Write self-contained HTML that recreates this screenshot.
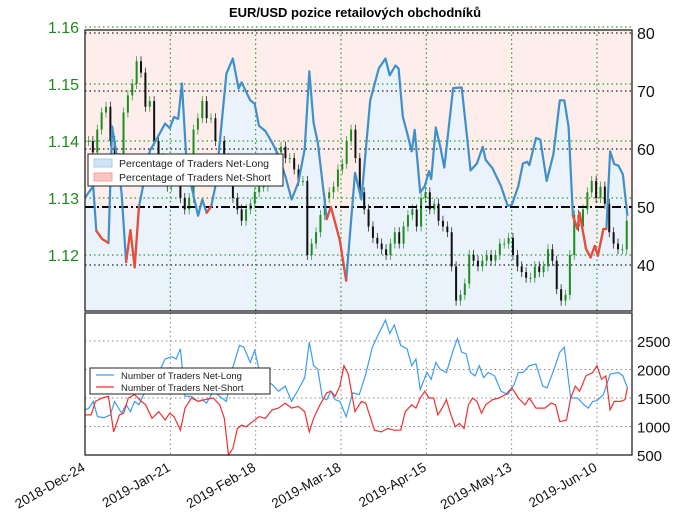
<!DOCTYPE html>
<html><head><meta charset="utf-8"><style>
html,body{margin:0;padding:0;background:#fff;}
svg{display:block;font-family:"Liberation Sans",sans-serif;}
</style></head><body>
<svg id="chart" width="680" height="519" viewBox="0 0 680 519">
<text x="355" y="17" text-anchor="middle" font-size="13" font-weight="bold">EUR/USD pozice retailových obchodníků</text>
<g id="upper"></g>
<g id="lower"></g>
<g id="xaxis"></g>
</svg>
<script>
// ---------- data ----------
const dateLabels = ["2018-Dec-24","2019-Jan-21","2019-Feb-18","2019-Mar-18","2019-Apr-15","2019-May-13","2019-Jun-10"];
const dateDays = [0,28,56,84,112,140,168];
const priceTicks = [1.12,1.13,1.14,1.15,1.16];
const pctTicks = [40,50,60,70,80];
const countTicks = [500,1000,1500,2000,2500];

const closes = [1.140,1.138,1.142,1.145,1.146,1.140,1.137,1.135,1.145,1.148,1.150,1.154,1.152,1.146,1.147,1.140,1.137,1.135,1.132,1.133,1.135,1.130,1.128,1.130,1.142,1.144,1.147,1.144,1.144,1.140,1.140,1.137,1.135,1.130,1.128,1.126,1.128,1.129,1.131,1.132,1.132,1.133,1.133,1.138,1.139,1.137,1.137,1.135,1.133,1.133,1.120,1.122,1.124,1.127,1.130,1.131,1.132,1.135,1.136,1.140,1.142,1.137,1.131,1.128,1.125,1.123,1.122,1.121,1.120,1.122,1.124,1.122,1.125,1.127,1.128,1.125,1.130,1.131,1.128,1.129,1.126,1.125,1.124,1.118,1.112,1.113,1.115,1.120,1.119,1.118,1.119,1.120,1.119,1.120,1.122,1.122,1.123,1.120,1.118,1.117,1.116,1.116,1.118,1.117,1.118,1.121,1.119,1.114,1.112,1.113,1.120,1.127,1.125,1.128,1.131,1.133,1.130,1.132,1.129,1.124,1.122,1.121,1.121,1.126];

const pctDays = [0,2.7,3.7,5.6,7.7,8.9,10.6,12.0,13.5,14.9,16.3,17.7,19.2,21.3,23.5,26.3,27.8,29.2,30.6,31.8,33.2,34.9,37.1,38.5,39.9,41.4,42.8,44.2,46.4,48.5,50.4,51.4,54.2,55.7,57.1,59.2,61.4,63.5,65.7,67.8,70.0,72.1,73.6,75.0,76.4,78.6,79.3,80.7,83.6,85.7,88.6,90.7,93.6,96.4,98.6,100.0,101.9,102.9,104.3,105.7,107.2,108.2,110.0,111.5,112.9,113.6,115.1,116.5,117.9,120.8,123.6,125.8,126.5,128.6,130.5,131.5,133.7,136.5,138.7,140.1,142.2,143.7,145.1,145.8,148.0,149.4,151.5,153.7,155.8,157.3,158.7,160.1,161.6,162.3,164.4,165.9,167.3,168.3,170.1,171.1,172.3,173.7,175.1,176.5,178.0];
const pctLong = [51.6,53.6,45.9,44.5,43.8,63.9,58.2,52.4,40.5,46.0,39.6,50,54,59.7,61.7,64.4,63.6,65.5,65.2,71.3,58.7,53.6,48.5,51.3,49,50.1,53.6,61,73,75.6,70.4,71.5,68.4,67.8,64,63.1,61.1,58.9,55.4,51.3,54.2,60,73.4,64.5,61.1,51.3,47.9,50,44.3,37.3,55.9,51.3,68.4,73.9,75.6,72.7,74.4,73.9,65.6,62.8,59.6,63.3,52.5,53.6,56.2,54.8,63.7,60.6,56.8,70.5,70.6,59.9,56.3,57.5,60.4,58.1,56.7,53.6,50.2,50.4,53.6,57.5,57.8,57.2,61.9,61.6,54.5,59.1,68.4,68.4,63.8,48.5,46.2,49,42.8,41.3,43.3,41.6,46.2,46.2,59.6,57.4,57.1,55.6,48.5];

const longDays = [0,1.3,2.7,4.1,6.2,8.3,9.7,12.0,13.5,14.9,16.3,17.7,19.2,21.3,23.5,26.3,28.5,29.9,31.3,32.8,34.9,37.1,38.5,39.9,42.1,44.2,46.4,48.5,50.7,52.1,54.2,55.7,57.1,59.2,61.4,63.5,65.7,67.8,70.0,72.1,73.6,75.0,76.4,77.9,79.3,80.7,82.1,83.6,85.7,87.8,90.0,92.1,94.3,96.4,98.6,100.0,101.5,103.6,105.7,107.2,108.6,110.0,112.2,113.6,115.1,116.5,118.6,120.8,122.2,123.6,125.1,126.5,128.0,129.4,130.8,132.3,134.4,136.5,138.7,140.8,142.2,143.7,145.8,148.0,150.2,151.6,153.7,155.8,157.3,159.4,161.6,163.7,165.2,166.6,168.0,170.1,172.3,175.1,176.5,178.0];
const longCounts = [1290,1322,1441,1173,1155,1203,1441,1233,1381,1262,1441,1381,1560,1649,1857,2185,2226,2185,2363,1530,1530,1441,1471,1411,1619,1530,1441,2036,2423,2393,2125,2333,2006,1798,1738,1619,1709,1441,1649,1857,2482,2066,2006,1500,1471,1619,1471,1441,1173,1590,1560,1917,2393,2631,2869,2631,2780,2423,2363,2066,2185,1649,1947,1828,2125,2006,1947,2333,2542,2304,2274,1947,1887,2066,1857,1947,1887,1619,1560,1738,1947,1947,2066,2095,1709,1679,1976,2304,2393,1500,1500,1381,1322,1441,1453,1560,1917,1947,1887,1679];

const shortDays = [0,2.0,3.4,5.6,7.7,9.4,11.3,12.7,14.2,16.3,18.5,19.9,22.0,24.2,26.3,27.8,29.2,31.3,32.8,34.9,37.1,39.2,42.1,44.2,45.7,47.1,48.5,50.0,51.4,52.8,55.0,57.1,59.2,61.4,63.5,65.7,67.8,70.0,72.1,73.6,75.0,77.1,79.3,80.7,82.1,83.6,85.0,86.4,88.6,90.7,92.1,95.0,97.2,99.3,101.5,103.6,105.1,107.2,108.6,110.0,111.5,112.9,114.4,115.8,117.2,118.6,120.1,121.5,122.9,124.4,125.8,127.2,128.6,130.1,131.5,133.7,135.8,138.0,140.1,142.2,144.4,145.8,148.0,150.9,153.0,154.4,155.8,158.0,159.4,160.9,162.3,164.4,166.6,168.0,169.5,170.9,172.3,173.7,175.8,177.2,178.0];
const shortCounts = [1203,1203,1441,1500,1530,905,1203,1233,1500,1560,1441,1381,1143,1262,1114,1233,1173,935,1322,1500,1441,1471,1500,1381,1143,501,608,965,1024,995,1084,1173,1143,1292,1322,1411,1322,1352,1262,905,1143,1381,1590,1619,1530,1709,2066,1917,1262,1441,1411,935,905,965,935,935,1262,1381,1322,1500,1619,1500,1500,1203,1322,1471,1203,995,1054,965,1381,1500,1441,1233,1381,1471,1500,1560,1679,1500,1381,1500,1322,1322,1411,1381,1084,1114,1500,1709,1619,1887,1947,2066,1828,1887,1292,1441,1441,1471,1679];

// ---------- scales ----------
const L=85, R=632, UT=30, UB=311, LT=313, LB=455, DMAX=179.5;
const x = d => L + d/DMAX*(R-L);
const yPct = v => 33 + (80-v)*5.8;
const yPrice = p => 27 + (1.16-p)*5700;
const yCnt = v => 455 - (v-500)*0.057;
const NS="http://www.w3.org/2000/svg";
function mk(tag, attrs, parent){const e=document.createElementNS(NS,tag);for(const k in attrs)e.setAttribute(k,attrs[k]);parent.appendChild(e);return e;}
const up=document.getElementById('upper'), lo=document.getElementById('lower'), xa=document.getElementById('xaxis');

let bg=mk('rect',{x:L,y:UT,width:R-L,height:UB-UT,fill:'#fdeeec'},up);


let fp='M'+x(pctDays[0])+','+UB;
pctDays.forEach((d,i)=>{fp+=' L'+x(d).toFixed(1)+','+yPct(pctLong[i]).toFixed(1);});
fp+=' L'+x(pctDays[pctDays.length-1])+','+UB+' Z';
let fa=mk('path',{d:fp,fill:'#eaf3fb'},up);


mk('rect',{x:L,y:yPct(50),width:R-L,height:UB-yPct(50),fill:'#eaf3fb',opacity:0.6},up);

priceTicks.forEach(p=>{
  const g=mk('line',{x1:L,x2:R,y1:yPrice(p),y2:yPrice(p),stroke:'#2a9d2a','stroke-dasharray':'1.5,3','stroke-width':1.2},up);
  
  
  const t=mk('text',{x:L-6,y:yPrice(p)+6,'text-anchor':'end','font-size':16,fill:'#1f8a1f'},up);
  t.textContent=p.toFixed(2);
  
  
});
pctTicks.forEach(v=>{
  if(v!==50){const g=mk('line',{x1:L,x2:R,y1:yPct(v),y2:yPct(v),stroke:'#222','stroke-dasharray':'1.5,3','stroke-width':1.2},up);
  
  }
  const t=mk('text',{x:R+5,y:yPct(v)+6,'font-size':16,fill:'#111'},up);
  t.textContent=v;
  
  
});
dateDays.slice(1).forEach(d=>{
  const g=mk('line',{x1:x(d),x2:x(d),y1:UT,y2:UB,stroke:'#2a9d2a','stroke-dasharray':'1.5,3','stroke-width':1.2},up);
  
  
});

const stepC = DMAX/(closes.length+1);
closes.forEach((c,i)=>{
  const o = i===0 ? c : closes[i-1];
  const cx = x(stepC*(i+0.8));
  const col = c>=o ? '#1e8c1e' : '#111';
  const hi=Math.max(o,c), lw=Math.min(o,c);
  const w=mk('line',{x1:cx,x2:cx,y1:yPrice(hi)-5,y2:yPrice(lw)+5,stroke:col,'stroke-width':0.7},up);
  
  
  const b=mk('rect',{x:cx-1,y:yPrice(hi),width:2,height:Math.max(1,yPrice(lw)-yPrice(hi)),fill:col},up);
  
  
});

let fl=mk('line',{x1:L,x2:R,y1:yPct(50),y2:yPct(50),stroke:'#000','stroke-width':2,'stroke-dasharray':'9,3,2,3'},up);



let pp='';
pctDays.forEach((d,i)=>{pp+=(i?' L':'M')+x(d).toFixed(1)+','+yPct(pctLong[i]).toFixed(1);});
let pl=mk('path',{d:pp,fill:'none',stroke:'#3f8fcb','stroke-width':2.2,'stroke-linejoin':'round'},up);


for(let i=0;i<pctDays.length-1;i++){
  if(pctLong[i]<50 && pctLong[i+1]<50.5 || pctLong[i+1]<50 && pctLong[i]<50.5){
    const s=mk('line',{x1:x(pctDays[i]),y1:yPct(pctLong[i]),x2:x(pctDays[i+1]),y2:yPct(pctLong[i+1]),stroke:'#f04a35','stroke-width':2.2,'stroke-linecap':'round'},up);
    
    
  }
}
let fr=mk('rect',{x:L,y:UT,width:R-L,height:UB-UT,fill:'none',stroke:'#222','stroke-width':1.3},up);



let lg=mk('g',{},up);


mk('rect',{x:88,y:154,width:195,height:32,fill:'#fff',stroke:'#222','stroke-width':1},lg);
mk('rect',{x:94,y:159,width:18,height:8,fill:'#cfe3f6',stroke:'#a9cbe8'},lg);
mk('rect',{x:94,y:173,width:18,height:8,fill:'#f9c6c2',stroke:'#f2a39c'},lg);
let t1=mk('text',{x:119,y:167,'font-size':10.5,fill:'#222'},lg);t1.textContent='Percentage of Traders Net-Long';


let t2=mk('text',{x:119,y:181,'font-size':10.5,fill:'#222'},lg);t2.textContent='Percentage of Traders Net-Short';



countTicks.forEach(v=>{
  if(v>500){const g=mk('line',{x1:L,x2:R,y1:yCnt(v),y2:yCnt(v),stroke:'#888','stroke-dasharray':'1.5,3'},lo);
  
  }
  const t=mk('text',{x:R+5,y:yCnt(v)+6,'font-size':15,fill:'#111'},lo);
  t.textContent=v;
  
  
});
dateDays.slice(1).forEach(d=>{
  const g=mk('line',{x1:x(d),x2:x(d),y1:LT,y2:LB,stroke:'#888','stroke-dasharray':'1.5,3'},lo);
  
  
});
function series(days,vals,col,name){
  let p='';days.forEach((d,i)=>{p+=(i?' L':'M')+x(d).toFixed(1)+','+yCnt(vals[i]).toFixed(1);});
  const e=mk('path',{d:p,fill:'none',stroke:col,'stroke-width':1.2},lo);
  
  
}
series(longDays,longCounts,'#3d9cf5','net-long-count-line');
series(shortDays,shortCounts,'#f03030','net-short-count-line');
let fr2=mk('rect',{x:L,y:LT,width:R-L,height:LB-LT,fill:'none',stroke:'#222','stroke-width':1.3},lo);


let lg2=mk('g',{},lo);


mk('rect',{x:90,y:368,width:180,height:26,fill:'#fff',stroke:'#222'},lg2);
mk('line',{x1:96,x2:114,y1:375,y2:375,stroke:'#3d9cf5','stroke-width':1.3},lg2);
mk('line',{x1:96,x2:114,y1:387,y2:387,stroke:'#f03030','stroke-width':1.3},lg2);
let t3=mk('text',{x:121,y:379,'font-size':9.5,fill:'#222'},lg2);t3.textContent='Number of Traders Net-Long';


let t4=mk('text',{x:121,y:391,'font-size':9.5,fill:'#222'},lg2);t4.textContent='Number of Traders Net-Short';



dateDays.forEach((d,i)=>{
  const px=x(d)+1, py=470;
  const t=mk('text',{x:px,y:py,'text-anchor':'end','font-size':13.5,fill:'#111',transform:'rotate(-30 '+px+' '+py+')'},xa);
  t.textContent=dateLabels[i];
  
  
});
</script>
</body></html>
